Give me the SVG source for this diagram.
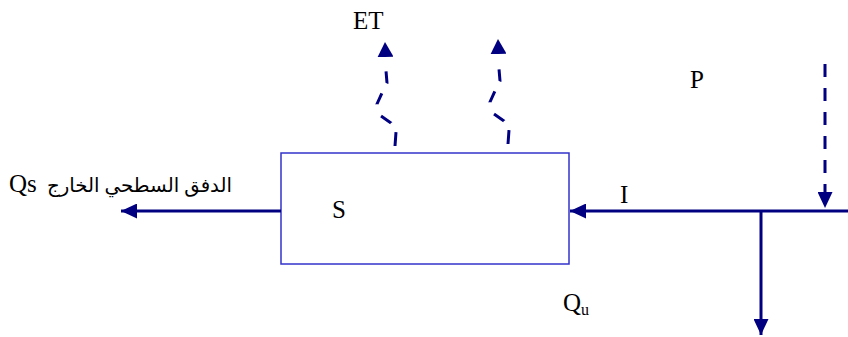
<svg xmlns="http://www.w3.org/2000/svg" width="848" height="337" viewBox="0 0 848 337">
<style>
text{font-family:"Liberation Serif","DejaVu Sans",serif;font-size:25px;fill:#000}
.ar{font-size:19.8px}
.ln{stroke:#000080;stroke-width:3;fill:none}
.et{stroke:#000080;stroke-width:3;fill:none;stroke-dasharray:14 10.3 12.2 12.6 11.7 11.2 12 40}
.pd{stroke-dasharray:13 11}
</style>
<defs>
<marker id="ah" markerUnits="userSpaceOnUse" markerWidth="16" markerHeight="15" refX="16" refY="7.5" orient="auto">
<path d="M0,0 L16,7.5 L0,15 z" fill="#000080"/>
</marker>
<marker id="ahs" markerUnits="userSpaceOnUse" markerWidth="15" markerHeight="16" refX="15" refY="8" orient="auto">
<path d="M0,0 L15,8 L0,16 z" fill="#000080"/>
</marker>
</defs>
<g id="node-S">
<rect x="281" y="153" width="288" height="111" fill="#fff" stroke="#3333cc" stroke-width="1.5"/>
<text x="332" y="218">S</text>
</g>
<g id="label-ET"><text x="353" y="29">ET</text></g>
<g id="label-P"><text x="690" y="88">P</text></g>
<g id="label-I"><text x="620" y="203">I</text></g>
<g id="label-Qu"><text x="563" y="311">Q<tspan font-size="16" dy="4">u</tspan></text></g>
<g id="label-Qs"><text x="9" y="192">Qs</text><text class="ar" x="232" y="192" text-anchor="end">الدفق السطحي الخارج</text></g>
<g id="connectors">
<path class="et" d="M395,146 L396,132 L391,123 L381,116 L377,104 L382,93 L387,83 L386,71 L385,42" marker-end="url(#ahs)"/>
<path class="et" d="M508,144 L509,130 L504,121 L494,114 L490,102 L495,91 L500,81 L499,69 L498,39" marker-end="url(#ahs)"/>
<path class="ln pd" d="M825,64 L825,208" marker-end="url(#ah)"/>
<path class="ln" d="M848,211 L570,211" marker-end="url(#ah)"/>
<path class="ln" d="M761,211 L761,335" marker-end="url(#ah)"/>
<path class="ln" d="M281,211 L121,211" marker-end="url(#ah)"/>
</g>
</svg>
